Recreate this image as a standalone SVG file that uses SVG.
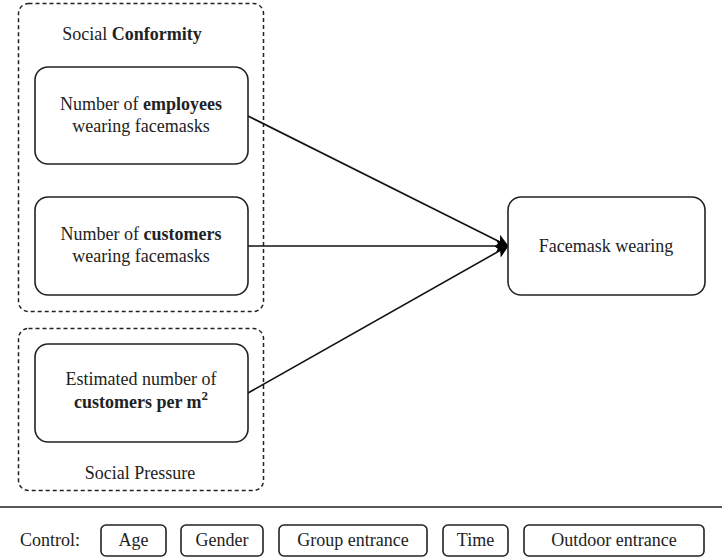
<svg xmlns="http://www.w3.org/2000/svg" width="724" height="560" viewBox="0 0 724 560">
<defs>
<style>
text{font-family:'Liberation Serif','Times New Roman',Times,serif;font-size:18px;fill:#222;text-anchor:middle}
.b{font-weight:bold}
.node{fill:#fff;stroke:#222;stroke-width:1.6}
.grp{fill:none;stroke:#222;stroke-width:1.5;stroke-dasharray:4 3}
.ctl{fill:#fff;stroke:#222;stroke-width:1.6}
.edge{stroke:#111;stroke-width:1.6;fill:none}
</style>
<marker id="ah" markerWidth="13" markerHeight="13" refX="12" refY="6.5" orient="auto" markerUnits="userSpaceOnUse">
<path d="M0,0 L13,6.5 L0,13 L3,6.5 Z" fill="#000"/>
</marker>
</defs>
<rect width="724" height="560" fill="#fff"/>
<g id="group-conformity">
<rect class="grp" x="18.5" y="3.5" width="245" height="308" rx="10"/>
<text x="132" y="40">Social <tspan class="b">Conformity</tspan></text>
</g>
<g id="group-pressure">
<rect class="grp" x="18.5" y="328.5" width="245" height="162" rx="10"/>
<text x="140" y="479">Social Pressure</text>
</g>
<g id="connectors">
<line class="edge" x1="248" y1="116" x2="508" y2="246" marker-end="url(#ah)"/>
<line class="edge" x1="248" y1="246" x2="508" y2="246" marker-end="url(#ah)"/>
<line class="edge" x1="248" y1="393" x2="508" y2="246" marker-end="url(#ah)"/>
<line x1="0" y1="507" x2="722" y2="507" stroke="#222" stroke-width="1.6"/>
</g>
<g id="n-employees">
<rect class="node" x="35" y="67" width="213" height="97" rx="13"/>
<text x="141" y="110">Number of <tspan class="b">employees</tspan></text>
<text x="141" y="132">wearing facemasks</text>
</g>
<g id="n-customers">
<rect class="node" x="35" y="197" width="213" height="98" rx="13"/>
<text x="141" y="240">Number of <tspan class="b">customers</tspan></text>
<text x="141" y="262">wearing facemasks</text>
</g>
<g id="n-density">
<rect class="node" x="35" y="344" width="213" height="98" rx="13"/>
<text x="141" y="385">Estimated number of</text>
<text x="141" y="408" class="b">customers per m<tspan dy="-8" font-size="13">2</tspan></text>
</g>
<g id="n-facemask">
<rect class="node" x="508" y="197" width="197" height="98" rx="13"/>
<text x="606" y="252">Facemask wearing</text>
</g>
<g id="controls">
<text x="50" y="546">Control:</text>
<g id="c-age"><rect class="ctl" x="101" y="525" width="65" height="31" rx="5"/><text x="133.5" y="546">Age</text></g>
<g id="c-gender"><rect class="ctl" x="181" y="525" width="82" height="31" rx="5"/><text x="222" y="546">Gender</text></g>
<g id="c-group"><rect class="ctl" x="279" y="525" width="148" height="31" rx="5"/><text x="353" y="546">Group entrance</text></g>
<g id="c-time"><rect class="ctl" x="443" y="525" width="65" height="31" rx="5"/><text x="475.5" y="546">Time</text></g>
<g id="c-outdoor"><rect class="ctl" x="524" y="525" width="180" height="31" rx="5"/><text x="614" y="546">Outdoor entrance</text></g>
</g>
</svg>
